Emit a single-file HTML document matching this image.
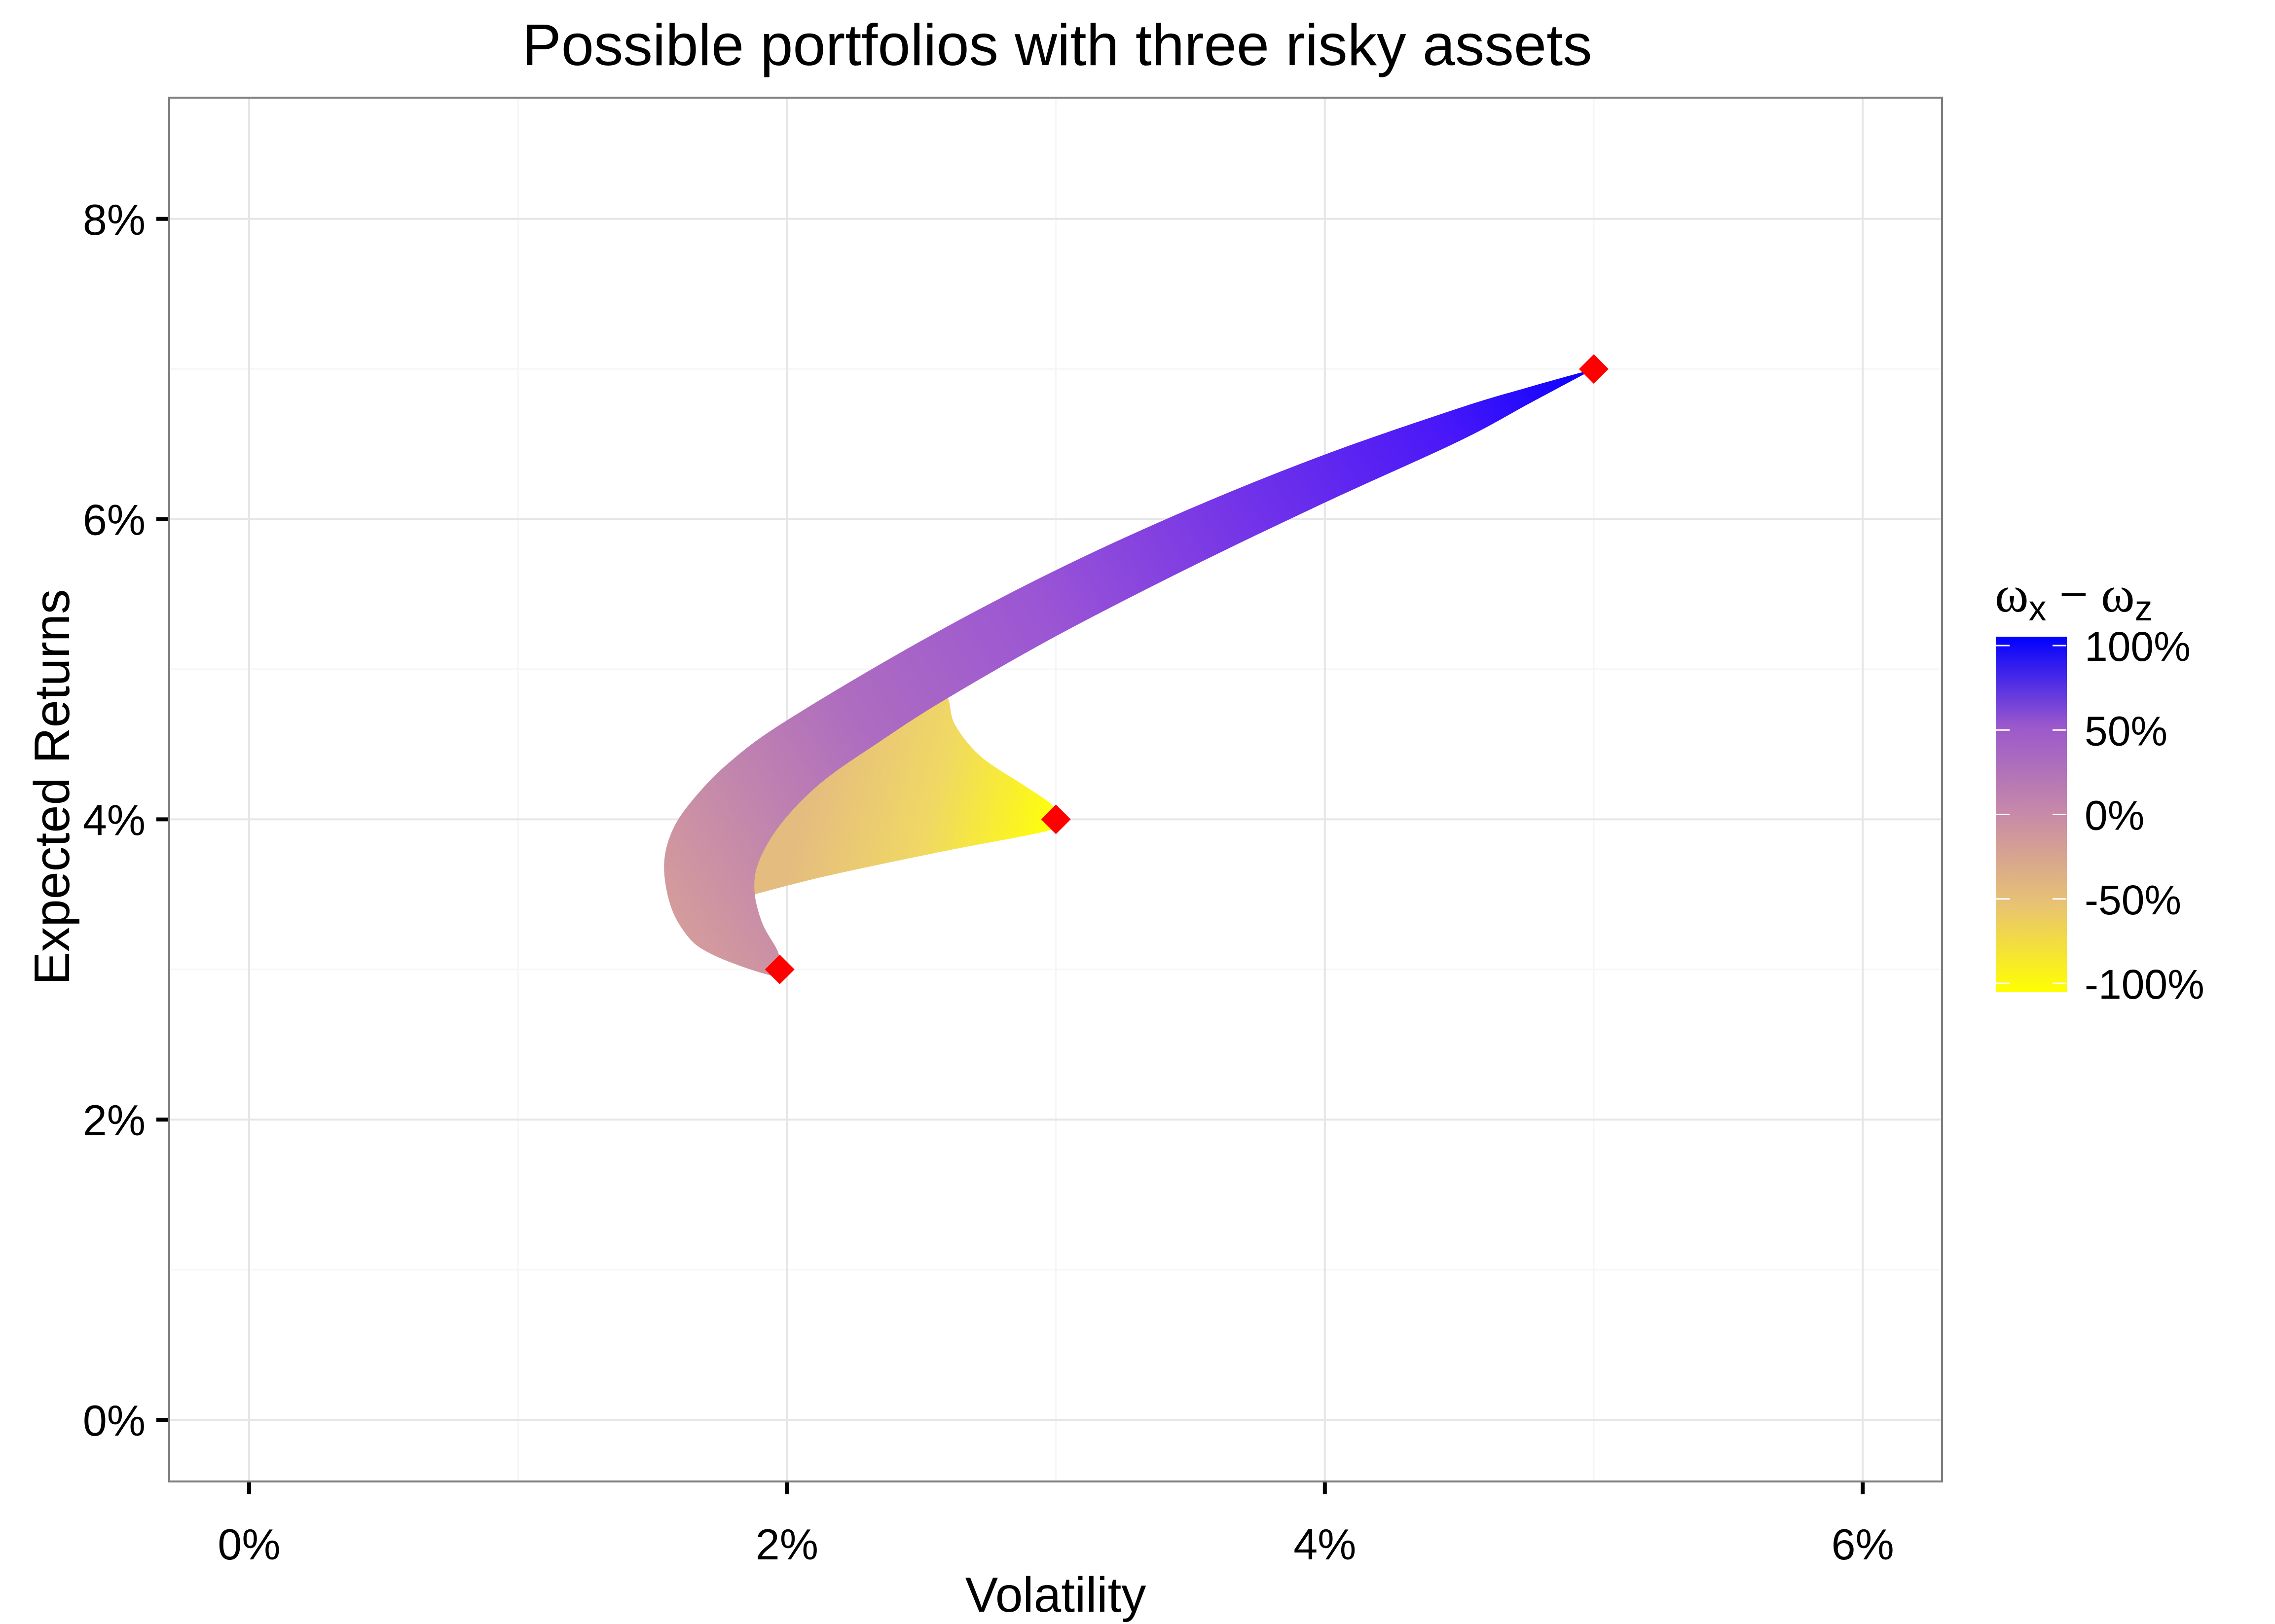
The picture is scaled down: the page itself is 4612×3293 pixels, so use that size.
<!DOCTYPE html>
<html><head><meta charset="utf-8"><style>
html,body{margin:0;padding:0;background:#fff;}
svg{display:block;font-family:"Liberation Sans",Arial,sans-serif;}
</style></head><body>
<svg id="chart" width="4612" height="3293" viewBox="0 0 4612 3293">
<defs>
<linearGradient id="bandGrad" gradientUnits="userSpaceOnUse" x1="0" y1="0" x2="1" y2="1">
<stop offset="0" stop-color="#d69e9a"/><stop offset="0.25" stop-color="#ae6cc0"/><stop offset="0.45" stop-color="#9a55d4"/><stop offset="0.61" stop-color="#7c3ae4"/><stop offset="0.85" stop-color="#4a18f8"/><stop offset="1" stop-color="#0800ff"/>
</linearGradient>
<linearGradient id="fanGrad" gradientUnits="userSpaceOnUse" x1="0" y1="0" x2="1" y2="1">
<stop offset="0" stop-color="#e4bc80"/><stop offset="0.5" stop-color="#f0d864"/><stop offset="1" stop-color="#ffff08"/>
</linearGradient>
<linearGradient id="legendGrad" x1="0" y1="1" x2="0" y2="0">
<stop offset="0" stop-color="#ffff00"/><stop offset="0.25" stop-color="#e8c274"/><stop offset="0.5" stop-color="#c88aa8"/><stop offset="0.75" stop-color="#9a58cc"/><stop offset="1" stop-color="#0000ff"/>
</linearGradient>
</defs>
<g id="grid"></g>
<g id="marks"></g>
<rect x="343" y="198" width="3594" height="2806" fill="none" stroke="#7f7f7f" stroke-width="4"/>
<g id="axes"></g>
<text x="2143" y="132" font-size="119" text-anchor="middle">Possible portfolios with three risky assets</text>
<text x="2140" y="3268" font-size="100" text-anchor="middle">Volatility</text>
<text transform="translate(140,1596) rotate(-90)" font-size="101" text-anchor="middle">Expected Returns</text>
<g>
<text x="4044" y="1240" font-size="104" font-family="Liberation Serif, serif">ω<tspan font-size="72" dy="18" font-family="Liberation Sans, sans-serif">x</tspan><tspan dy="-18"> − ω</tspan><tspan font-size="72" dy="18" font-family="Liberation Sans, sans-serif">z</tspan></text>
<rect x="4046" y="1291" width="144" height="721" fill="url(#legendGrad)"/>
<g id="legendTicks"></g>
</g>
</svg>
<script>
const xTicks = [0, 2, 4, 6];
const xMinor = [1, 3, 5];
const yTicks = [0, 2, 4, 6, 8];
const yMinor = [1, 3, 5, 7];
const legendValues = [100, 50, 0, -50, -100];
const legendLabels = ["100%", "50%", "0%", "-50%", "-100%"];
const assetVol = [5.0, 3.0, 1.973];
const assetRet = [7.0, 4.0, 3.0];
const outerVol = [5.0, 4.76, 4.5, 4.0, 3.5, 3.0, 2.5, 2.0, 1.786, 1.645, 1.570, 1.543, 1.570, 1.636, 1.711, 1.832, 1.944, 1.965];
const outerRet = [7.0, 6.88, 6.74, 6.43, 6.07, 5.66, 5.19, 4.66, 4.38, 4.12, 3.91, 3.68, 3.41, 3.21, 3.11, 3.02, 2.96, 2.98];
const innerVol = [1.965, 1.968, 1.908, 1.879, 1.898, 1.982, 2.131, 2.347, 2.581, 3.0, 3.5, 4.0, 4.5, 4.76, 5.0];
const innerRet = [3.0, 3.11, 3.31, 3.53, 3.73, 3.98, 4.25, 4.52, 4.79, 5.22, 5.68, 6.11, 6.52, 6.77, 7.0];
const fanVol = [1.86, 1.88, 1.96, 2.11, 2.33, 2.57, 2.60, 2.625, 2.72, 2.878, 2.983, 3.006, 2.983, 2.562, 2.141, 1.878];
const fanRet = [3.53, 3.73, 3.98, 4.25, 4.53, 4.82, 4.80, 4.63, 4.42, 4.23, 4.10, 4.0, 3.93, 3.78, 3.62, 3.50];

const NS = "http://www.w3.org/2000/svg";
const X0 = 505, XS = 545.2, Y0 = 2879, YS = 304.4;
function sx(v){ return X0 + v * XS; }
function sy(v){ return Y0 - v * YS; }
function mk(tag, attrs, parent){ const e = document.createElementNS(NS, tag); for (const k in attrs) e.setAttribute(k, attrs[k]); parent.appendChild(e); return e; }

const grid = document.getElementById('grid');
xMinor.forEach(v => { const l = mk('line', {x1: sx(v), x2: sx(v), y1: 198, y2: 3004, stroke: '#f6f6f6', 'stroke-width': 3}, grid);
  
   });
yMinor.forEach(v => { const l = mk('line', {x1: 343, x2: 3937, y1: sy(v), y2: sy(v), stroke: '#f6f6f6', 'stroke-width': 3}, grid);
  
   });
xTicks.forEach(v => { const l = mk('line', {x1: sx(v), x2: sx(v), y1: 198, y2: 3004, stroke: '#e6e6e6', 'stroke-width': 4}, grid);
  
   });
yTicks.forEach(v => { const l = mk('line', {x1: 343, x2: 3937, y1: sy(v), y2: sy(v), stroke: '#e6e6e6', 'stroke-width': 4}, grid);
  
   });

const axes = document.getElementById('axes');
xTicks.forEach(v => {
  const t = mk('line', {x1: sx(v), x2: sx(v), y1: 3006, y2: 3030, stroke: '#000', 'stroke-width': 8}, axes);
  
  
  const l = mk('text', {x: sx(v), y: 3162, 'font-size': 88, 'text-anchor': 'middle'}, axes);
  l.textContent = v + '%';
  
  
});
yTicks.forEach(v => {
  const t = mk('line', {x1: 317, x2: 341, y1: sy(v), y2: sy(v), stroke: '#000', 'stroke-width': 8}, axes);
  
  
  const l = mk('text', {x: 295, y: sy(v) + 32, 'font-size': 88, 'text-anchor': 'end'}, axes);
  l.textContent = v + '%';
  
  
});

function smoothPath(xs, ys){
  const p = xs.map((v, i) => [sx(v), sy(ys[i])]);
  let d = 'M' + p[0][0].toFixed(1) + ',' + p[0][1].toFixed(1);
  for (let i = 0; i < p.length - 1; i++) {
    const p0 = p[Math.max(0, i - 1)], p1 = p[i], p2 = p[i + 1], p3 = p[Math.min(p.length - 1, i + 2)];
    const c1 = [p1[0] + (p2[0] - p0[0]) / 6, p1[1] + (p2[1] - p0[1]) / 6];
    const c2 = [p2[0] - (p3[0] - p1[0]) / 6, p2[1] - (p3[1] - p1[1]) / 6];
    d += 'C' + c1[0].toFixed(1) + ',' + c1[1].toFixed(1) + ' ' + c2[0].toFixed(1) + ',' + c2[1].toFixed(1) + ' ' + p2[0].toFixed(1) + ',' + p2[1].toFixed(1);
  }
  return d;
}

const marks = document.getElementById('marks');
const fg = document.getElementById('fanGrad');
fg.setAttribute('x1', sx(2.1)); fg.setAttribute('y1', sy(4.35)); fg.setAttribute('x2', sx(3.0)); fg.setAttribute('y2', sy(3.95));
const bg = document.getElementById('bandGrad');
bg.setAttribute('x1', sx(1.55)); bg.setAttribute('y1', sy(3.3)); bg.setAttribute('x2', sx(5.0)); bg.setAttribute('y2', sy(7.0));

const fan = mk('path', {d: smoothPath(fanVol, fanRet) + 'Z', fill: 'url(#fanGrad)'}, marks);



const bandD = smoothPath(outerVol, outerRet) + smoothPath(innerVol, innerRet).replace(/^M/, 'L') + 'Z';
const band = mk('path', {d: bandD, fill: 'url(#bandGrad)'}, marks);



assetVol.forEach((v, i) => {
  const cx = sx(v), cy = sy(assetRet[i]), r = 30;
  const d = mk('polygon', {points: `${cx},${cy - r} ${cx + r},${cy} ${cx},${cy + r} ${cx - r},${cy}`, fill: '#ff0000'}, marks);
  
  
});

const lt = document.getElementById('legendTicks');
legendValues.forEach((v, i) => {
  const y = 1309 + (100 - v) / 200 * (1994 - 1309);
  const a = mk('line', {x1: 4046, x2: 4074, y1: y, y2: y, stroke: '#fff', 'stroke-width': 3}, lt);
  
  
  const b = mk('line', {x1: 4161, x2: 4189, y1: y, y2: y, stroke: '#fff', 'stroke-width': 3}, lt);
  
  
  const t = mk('text', {x: 4226, y: y + 31, 'font-size': 84}, lt);
  t.textContent = legendLabels[i];
  
  
});
</script>
</body></html>
